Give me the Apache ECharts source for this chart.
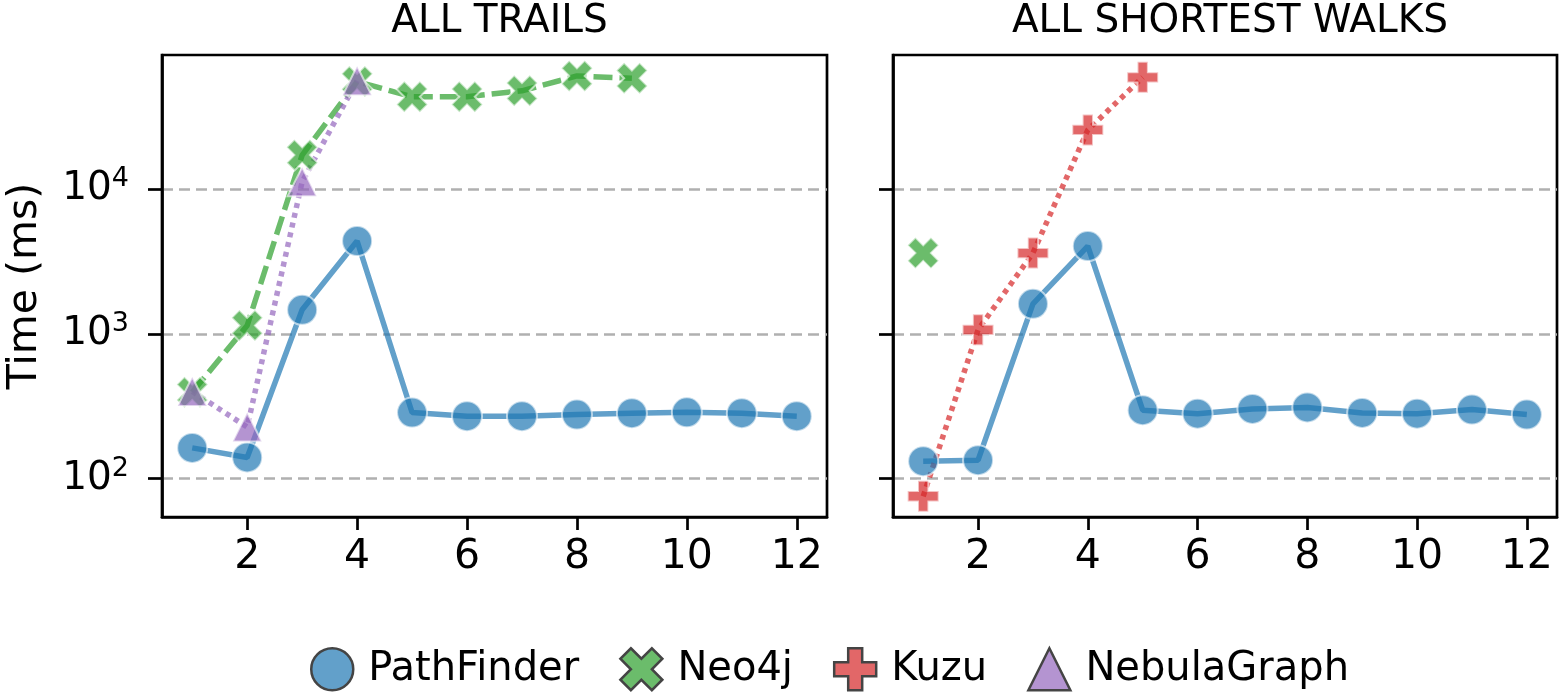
<!DOCTYPE html>
<html><head><meta charset="utf-8">
<script src="https://cdn.jsdelivr.net/npm/echarts@6/dist/echarts.min.js"></script>
<style>html,body{margin:0;padding:0;background:#fff}#c{width:1559px;height:692px}</style>
</head><body><div id="c"></div>
<script>
// ---- data ----
const panelTitles = ['ALL TRAILS', 'ALL SHORTEST WALKS'];
const legendNames = ['PathFinder', 'Neo4j', 'Kuzu', 'NebulaGraph'];
const xTicks = [2, 4, 6, 8, 10, 12];
const yTicks = [100, 1000, 10000];

const trailsPathFinderX = [1, 2, 3, 4, 5, 6, 7, 8, 9, 10, 11, 12];
const trailsPathFinder = [163, 140, 1465, 4375, 286, 270, 270, 277, 283, 287, 283, 270];
const trailsNeo4jX = [1, 2, 3, 4, 5, 6, 7, 8, 9];
const trailsNeo4j = [395, 1141, 17170, 55200, 43400, 43400, 47700, 60400, 58200];
const trailsNebulaX = [1, 2, 3, 4];
const trailsNebula = [400, 227, 11230, 56000];

const walksPathFinderX = [1, 2, 3, 4, 5, 6, 7, 8, 9, 10, 11, 12];
const walksPathFinder = [132, 134, 1611, 4035, 297, 281, 303, 310, 284, 281, 300, 277];
const walksNeo4jX = [1];
const walksNeo4j = [3610];
const walksKuzuX = [1, 2, 3, 4, 5];
const walksKuzu = [75.5, 1066, 3610, 25600, 59100];

// ---- styles ----
const FONT = 'DejaVu Sans';
const X_PATH = 'path://M1,0 L2,1 L3,0 L4,1 L3,2 L4,3 L3,4 L2,3 L1,4 L0,3 L1,2 L0,1 Z';
const P_PATH = 'path://M1,0 L2,0 L2,1 L3,1 L3,2 L2,2 L2,3 L1,3 L1,2 L0,2 L0,1 L1,1 Z';
const styles = {
  PathFinder: { rgb: '31,119,180', symbol: 'circle', size: 30, dash: 'solid' },
  Neo4j: { rgb: '44,160,44', symbol: X_PATH, size: 31, dash: [19, 7] },
  Kuzu: { rgb: '214,39,40', symbol: P_PATH, size: 31, dash: [5, 5] },
  NebulaGraph: { rgb: '148,103,189', symbol: 'triangle', size: 29, dash: [5, 5] }
};

function zip(xs, ys) { return xs.map((x, i) => [x, ys[i]]); }

function makeSeries(name, xs, ys, g) {
  const s = styles[name];
  const data = zip(xs, ys);
  return [
    {
      name: name, type: 'line', xAxisIndex: g, yAxisIndex: g, data: data,
      symbol: s.symbol, symbolSize: s.size, showSymbol: true,
      itemStyle: { color: 'rgba(' + s.rgb + ',0.7)', borderColor: 'rgba(255,255,255,0.6)', borderWidth: 2 },
      lineStyle: { width: 0, opacity: 0 },
      emphasis: { disabled: true }, animation: false
    },
    {
      name: name, type: 'line', xAxisIndex: g, yAxisIndex: g, data: data,
      symbol: 'none', showSymbol: false, silent: true,
      lineStyle: { color: 'rgba(' + s.rgb + ',0.7)', width: 5.5, type: s.dash },
      emphasis: { disabled: true }, animation: false
    }
  ];
}

const grids = [
  { left: 162, top: 55, width: 665, height: 462 },
  { left: 893, top: 55, width: 664, height: 462 }
];

function xAxisFor(g) {
  return {
    type: 'value', gridIndex: g, min: 0.45, max: 12.55,
    axisLine: { show: true, onZero: false, lineStyle: { color: '#000', width: 2.7 } },
    axisTick: { show: true, customValues: xTicks, length: 13, lineStyle: { color: '#000', width: 2.7 } },
    axisLabel: { show: true, customValues: xTicks, fontSize: 41, fontFamily: FONT, color: '#000', margin: 20 },
    splitLine: { show: false }
  };
}
function yAxisFor(g) {
  return {
    type: 'log', logBase: 10, gridIndex: g, min: 54.3, max: 84300,
    axisLine: { show: true, lineStyle: { color: '#000', width: 2.7 } },
    axisTick: { show: true, customValues: yTicks, length: 14, lineStyle: { color: '#000', width: 2.7 } },
    axisLabel: {
      show: g === 0, customValues: yTicks, margin: 33,
      formatter: function (v) { return '{b|10}{s|' + Math.round(Math.log10(v)) + '}'; },
      rich: {
        b: { fontSize: 39, fontFamily: FONT, color: '#000' },
        s: { fontSize: 27, fontFamily: FONT, color: '#000', padding: [0, 0, 20, 0] }
      }
    },
    splitLine: { show: true, lineStyle: { color: '#b0b0b0', width: 2.5, type: [11, 6] } },
    minorTick: { show: false }, minorSplitLine: { show: false },
    name: g === 0 ? 'Time (ms)' : '', nameLocation: 'middle', nameGap: 116,
    nameMoveOverlap: false,
    nameTextStyle: { fontSize: 41, fontFamily: FONT, color: '#000' }
  };
}

const series = [].concat(
  makeSeries('PathFinder', trailsPathFinderX, trailsPathFinder, 0),
  makeSeries('Neo4j', trailsNeo4jX, trailsNeo4j, 0),
  makeSeries('NebulaGraph', trailsNebulaX, trailsNebula, 0),
  makeSeries('PathFinder', walksPathFinderX, walksPathFinder, 1),
  makeSeries('Neo4j', walksNeo4jX, walksNeo4j, 1),
  makeSeries('Kuzu', walksKuzuX, walksKuzu, 1)
);

const chart = echarts.init(document.getElementById('c'), null, { renderer: 'canvas' });
chart.setOption({
  animation: false,
  backgroundColor: '#fff',
  title: panelTitles.map((t, i) => ({
    text: t, left: grids[i].left + grids[i].width / 2, top: -3, textAlign: 'center',
    textStyle: { fontSize: 39, fontWeight: 'normal', fontFamily: FONT, color: '#000' }
  })),
  grid: grids.map(g => Object.assign({
    show: true, borderColor: '#000', borderWidth: 2.7, backgroundColor: 'transparent',
    containLabel: false, outerBoundsMode: 'none'
  }, g)),
  xAxis: [xAxisFor(0), xAxisFor(1)],
  yAxis: [yAxisFor(0), yAxisFor(1)],
  legend: {
    left: 305, top: 642, itemWidth: 42, itemHeight: 42, itemGap: 40,
    textStyle: { fontSize: 40, fontFamily: FONT, color: '#000', padding: [0, 0, 0, 10] },
    data: legendNames.map(n => ({
      name: n, icon: styles[n].symbol,
      itemStyle: { color: 'rgba(' + styles[n].rgb + ',0.7)', borderColor: '#444', borderWidth: 2.5, opacity: 1 }
    }))
  },
  series: series
});
</script>
</body></html>
